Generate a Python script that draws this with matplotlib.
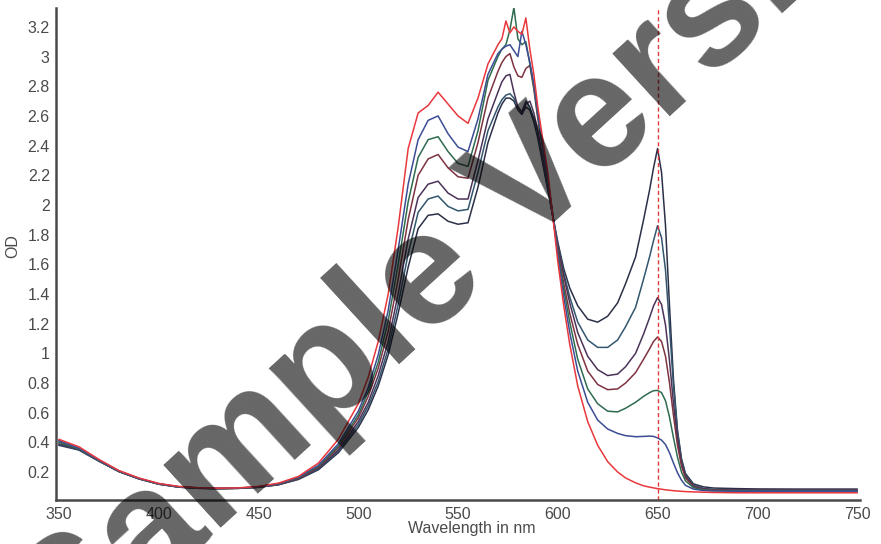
import matplotlib
matplotlib.use('Agg')
import matplotlib.pyplot as plt

# Wavelength grid (nm)
wavelength = [350, 360, 370, 380, 390, 400, 410, 420, 430, 440, 450, 460, 470,
              480, 490, 500, 505, 510, 515, 520, 525, 530, 535, 540, 545, 550, 555, 560, 565,
              570, 572, 574, 576, 578, 580, 582, 584, 586, 588, 590,
              595, 598, 600, 603, 606, 610, 615, 620, 625, 630,
              634, 639, 643, 646, 648, 650, 652, 654, 656, 658,
              660, 662, 664, 668, 673, 678, 690, 700, 720, 750]

# Spectra (OD)
od_red = [0.42, 0.37, 0.285, 0.21, 0.16, 0.123, 0.103, 0.094, 0.091, 0.093, 0.103, 0.125, 0.17,
          0.26, 0.42, 0.66, 0.84, 1.08, 1.40, 1.85, 2.38, 2.62, 2.67, 2.76, 2.68, 2.60, 2.55, 2.72, 2.95,
          3.08, 3.12, 3.24, 3.16, 3.20, 3.17, 3.15, 3.26, 3.05, 2.88, 2.66,
          2.22, 1.86, 1.62, 1.32, 1.06, 0.78, 0.54, 0.38, 0.27, 0.20,
          0.16, 0.127, 0.107, 0.098, 0.093, 0.088, 0.084, 0.08, 0.077, 0.074,
          0.072, 0.07, 0.068, 0.066, 0.064, 0.062, 0.06, 0.06, 0.06, 0.06]

od_f = [0.41, 0.36, 0.28, 0.207, 0.157, 0.121, 0.101, 0.093, 0.09, 0.092, 0.101, 0.122, 0.165,
        0.245, 0.39, 0.61, 0.77, 0.99, 1.29, 1.70, 2.14, 2.44, 2.57, 2.60, 2.48, 2.39, 2.36, 2.58, 2.88,
        3.02, 3.05, 3.07, 3.08, 3.04, 3.00, 3.17, 3.08, 2.96, 2.82, 2.62,
        2.18, 1.89, 1.66, 1.38, 1.14, 0.88, 0.67, 0.55, 0.49, 0.46,
        0.445, 0.438, 0.44, 0.442, 0.44, 0.43, 0.415, 0.385, 0.33, 0.26,
        0.195, 0.145, 0.11, 0.085, 0.075, 0.072, 0.07, 0.07, 0.07, 0.07]

od_e = [0.40, 0.355, 0.277, 0.205, 0.156, 0.12, 0.1, 0.092, 0.089, 0.091, 0.1, 0.12, 0.162,
        0.238, 0.375, 0.585, 0.74, 0.94, 1.22, 1.60, 2.02, 2.32, 2.44, 2.46, 2.36, 2.28, 2.26, 2.50, 2.84,
        3.00, 3.05, 3.08, 3.18, 3.33, 3.12, 3.08, 3.10, 2.95, 2.80, 2.60,
        2.17, 1.88, 1.68, 1.43, 1.21, 0.96, 0.76, 0.66, 0.61, 0.605,
        0.63, 0.67, 0.71, 0.735, 0.748, 0.75, 0.735, 0.68, 0.57, 0.43,
        0.30, 0.2, 0.14, 0.095, 0.08, 0.075, 0.073, 0.072, 0.072, 0.072]

od_d = [0.41, 0.358, 0.279, 0.206, 0.156, 0.12, 0.1, 0.092, 0.089, 0.091, 0.099, 0.118, 0.158,
        0.232, 0.365, 0.565, 0.71, 0.90, 1.15, 1.50, 1.90, 2.20, 2.31, 2.34, 2.25, 2.19, 2.18, 2.42, 2.72,
        2.90, 2.96, 3.00, 3.02, 2.93, 2.87, 2.86, 2.92, 2.94, 2.78, 2.58,
        2.16, 1.88, 1.70, 1.47, 1.27, 1.06, 0.88, 0.79, 0.755, 0.76,
        0.80, 0.87, 0.96, 1.03, 1.08, 1.11, 1.08, 0.98, 0.80, 0.58,
        0.38, 0.24, 0.16, 0.1, 0.083, 0.078, 0.076, 0.075, 0.075, 0.075]

od_c = [0.39, 0.352, 0.275, 0.204, 0.155, 0.119, 0.099, 0.091, 0.088, 0.09, 0.098, 0.116, 0.155,
        0.225, 0.35, 0.54, 0.67, 0.85, 1.08, 1.40, 1.77, 2.05, 2.14, 2.16, 2.08, 2.04, 2.04, 2.30, 2.58,
        2.76, 2.83, 2.87, 2.88, 2.76, 2.66, 2.62, 2.68, 2.70, 2.62, 2.50,
        2.13, 1.88, 1.72, 1.52, 1.34, 1.14, 0.98, 0.89, 0.85, 0.86,
        0.91, 1.00, 1.13, 1.24, 1.32, 1.375, 1.33, 1.19, 0.95, 0.66,
        0.42, 0.26, 0.17, 0.105, 0.086, 0.08, 0.078, 0.078, 0.078, 0.078]

od_b = [0.385, 0.35, 0.274, 0.203, 0.154, 0.118, 0.098, 0.09, 0.088, 0.09, 0.097, 0.115, 0.152,
        0.22, 0.34, 0.52, 0.645, 0.81, 1.03, 1.33, 1.67, 1.95, 2.04, 2.06, 1.99, 1.96, 1.97, 2.22, 2.50,
        2.66, 2.71, 2.74, 2.75, 2.72, 2.66, 2.63, 2.70, 2.66, 2.58, 2.47,
        2.11, 1.89, 1.74, 1.54, 1.38, 1.21, 1.09, 1.04, 1.04, 1.09,
        1.18, 1.31, 1.50, 1.65, 1.76, 1.86, 1.78, 1.56, 1.18, 0.78,
        0.47, 0.28, 0.18, 0.11, 0.09, 0.083, 0.08, 0.08, 0.08, 0.08]

od_a = [0.38, 0.348, 0.273, 0.203, 0.154, 0.118, 0.098, 0.09, 0.088, 0.09, 0.097, 0.114, 0.15,
        0.215, 0.33, 0.50, 0.62, 0.78, 0.99, 1.27, 1.58, 1.84, 1.93, 1.94, 1.89, 1.87, 1.88, 2.12, 2.42,
        2.62, 2.68, 2.72, 2.72, 2.70, 2.64, 2.61, 2.66, 2.64, 2.56, 2.45,
        2.10, 1.89, 1.75, 1.57, 1.44, 1.32, 1.23, 1.21, 1.25, 1.34,
        1.47, 1.65, 1.90, 2.10, 2.25, 2.38, 2.22, 1.86, 1.32, 0.82,
        0.48, 0.29, 0.19, 0.12, 0.1, 0.092, 0.088, 0.086, 0.085, 0.085]

spectra = [od_a, od_b, od_c, od_d, od_e, od_f, od_red]
colors = ['#2b3048', '#32566e', '#4a3358', '#7d3341', '#2f6b4f', '#3b4d94', '#e8383d']

marker_nm = 650
x_ticks = [350, 400, 450, 500, 550, 600, 650, 700, 750]
y_ticks = [0.2, 0.4, 0.6, 0.8, 1, 1.2, 1.4, 1.6, 1.8, 2, 2.2, 2.4, 2.6, 2.8, 3, 3.2]

plt.rcParams['font.family'] = ['Liberation Sans', 'DejaVu Sans']

fig = plt.figure(figsize=(8.81, 5.44), dpi=100)
ax = fig.add_axes([0.0636, 0.0816, 0.9126, 0.9044])

# Curves
for od, col in zip(spectra, colors):
    ax.plot(wavelength, od, color=col, linewidth=1.1)

# Dashed marker line
ax.axvline(marker_nm, color='#e03a3a', linestyle=(0, (3, 2)), linewidth=1.0)

ax.set_xlim(348.5, 751.5)
ax.set_ylim(0.014, 3.33)
ax.set_xticks(x_ticks)
ax.set_xticklabels([str(t) for t in x_ticks])
ax.set_yticks(y_ticks)
ax.set_yticklabels(['%g' % t for t in y_ticks])
ax.tick_params(length=0, labelsize=11.5, labelcolor='#4a4a4a')
ax.tick_params(axis='y', pad=4.5)
ax.tick_params(axis='x', pad=5)

for side in ['top', 'right']:
    ax.spines[side].set_visible(False)
for side in ['left', 'bottom']:
    ax.spines[side].set_linewidth(1.8)
    ax.spines[side].set_color('#4a4a4a')

# Axis titles
fig.text(472 / 881, 1 - 529 / 544, 'Wavelength in nm', ha='center', va='center',
         fontsize=11.5, color='#4a4a4a')
fig.text(13 / 881, 1 - 246 / 544, 'OD', ha='center', va='center', rotation=90,
         fontsize=11.5, color='#4a4a4a')

# Watermark
fig.text(482 / 881, 1 - 232 / 544, 'Sample Version', ha='center', va='center',
         rotation=42.5, fontsize=116, fontweight='bold', color='black', alpha=0.6)

fig.savefig('out.png', dpi=100)
